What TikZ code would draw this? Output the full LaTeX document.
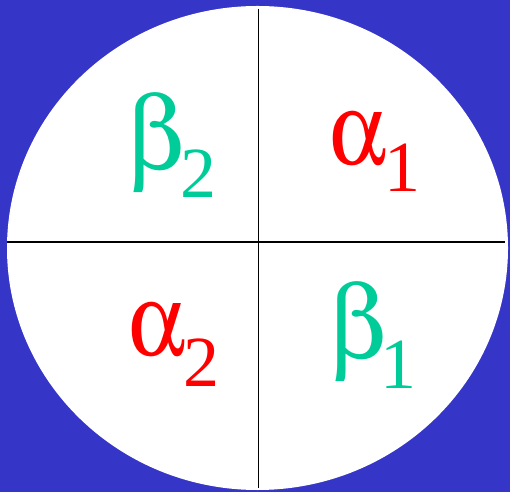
\documentclass[tikz,border=0pt]{standalone}
\usepackage{graphicx}
\usepackage[Symbol]{upgreek}
\usepackage{fontspec}
\setmainfont{Liberation Serif}
\definecolor{bgblue}{RGB}{53,53,200}
\definecolor{tealg}{RGB}{0,204,153}
\definecolor{redg}{RGB}{255,0,0}
% #1 glyph, #2 kern, #3 lowering, #4 subscript
\newcommand{\greeklab}[4]{{\fontsize{104}{104}\selectfont #1\kern#2\lower#3\hbox{\fontsize{72}{72}\selectfont #4}}}
\newcommand{\galpha}{\scalebox{0.87}[1]{$\upalpha$}}
\newcommand{\gbeta}{$\upbeta$}
\begin{document}
\begin{tikzpicture}[x=1pt,y=1pt,
  lab/.style={inner sep=0pt, anchor=base west}]
\fill[bgblue] (0,0) rectangle (510,492);
\useasboundingbox (0,0) rectangle (510,492);
\fill[white] (257.5,244) ellipse [x radius=250.5, y radius=242];
\coordinate (vt) at (258.5,483);
\coordinate (vb) at (258.5,4);
\coordinate (hl) at (7,250);
\coordinate (hr) at (505,250);
\draw[line width=1.6pt] (vt) -- (vb);
\draw[line width=1.6pt] (hl) -- (hr);
\node[lab, text=tealg] (b2) at (127,322) {\greeklab{\gbeta}{-4pt}{28pt}{2}};
\node[lab, text=redg] (a1) at (329,327) {\greeklab{\galpha}{-2pt}{27pt}{1}};
\node[lab, text=redg] (a2) at (128,136) {\greeklab{\galpha}{-2pt}{31pt}{2}};
\node[lab, text=tealg] (b1) at (329,133) {\greeklab{\gbeta}{-6pt}{29pt}{1}};
\end{tikzpicture}
\end{document}
